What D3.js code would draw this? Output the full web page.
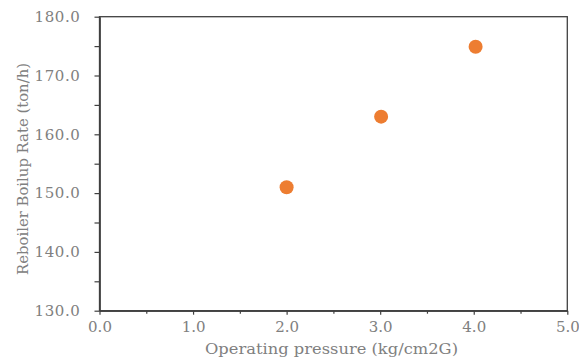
<!DOCTYPE html>
<html>
<head>
<meta charset="utf-8">
<script src="https://cdn.jsdelivr.net/npm/d3@7"></script>
<style>
  body { margin: 0; background: #fff; }
  text { font-family: "DejaVu Serif", "Liberation Serif", serif; fill: #808080; }
</style>
</head>
<body>
<div id="chart"></div>
<script>
// data
var pressure = [2.0, 3.01, 4.02];
var boilup = [151.0, 163.0, 174.9];
var xTicks = [0, 1, 2, 3, 4, 5];
var yTicks = [130, 140, 150, 160, 170, 180];
var xMinor = [0.5, 1.5, 2.5, 3.5, 4.5];
var yMinor = [135, 145, 155, 165, 175];

var W = 579, H = 363;
var m = { left: 99.5, right: 11.7, top: 16.7, bottom: 52.3 };
var iw = W - m.left - m.right, ih = H - m.top - m.bottom;

var svg = d3.select("#chart").append("svg").attr("width", W).attr("height", H);
var g = svg.append("g").attr("transform", "translate(" + m.left + "," + m.top + ")");

var x = d3.scaleLinear().domain([0, 5]).range([0, iw]);
var y = d3.scaleLinear().domain([130, 180]).range([ih, 0]);

// frame
g.append("rect").attr("width", iw).attr("height", ih)
  .attr("fill", "none").attr("stroke", "#404040").attr("stroke-width", 1.3);

var fmt = d3.format(".1f");

var xAxis = g.append("g").attr("transform", "translate(0," + ih + ")")
  .call(d3.axisBottom(x).tickValues(xTicks).tickFormat(fmt).tickSizeInner(4).tickSizeOuter(0).tickPadding(7));
var xAxisMinor = g.append("g").attr("transform", "translate(0," + ih + ")")
  .call(d3.axisBottom(x).tickValues(xMinor).tickFormat("").tickSizeInner(3).tickSizeOuter(0));
var yAxis = g.append("g")
  .call(d3.axisLeft(y).tickValues(yTicks).tickFormat(fmt).tickSizeInner(5).tickSizeOuter(0).tickPadding(14));
var yAxisMinor = g.append("g")
  .call(d3.axisLeft(y).tickValues(yMinor).tickFormat("").tickSizeInner(5).tickSizeOuter(0));

[xAxis, xAxisMinor, yAxis, yAxisMinor].forEach(function (a) {
  a.select(".domain").attr("stroke", "#404040").attr("stroke-width", 1.3);
  a.selectAll(".tick line").attr("stroke", "#404040").attr("stroke-width", 1.2);
  a.selectAll(".tick text").attr("font-family", null).style("fill", "#808080").attr("font-size", 15);
});
yAxis.selectAll(".tick text").attr("letter-spacing", "0.6px");

// points
g.selectAll("circle.pt").data(pressure).enter().append("circle")
  .attr("class", "pt")
  .attr("cx", function (d) { return x(d); })
  .attr("cy", function (d, i) { return y(boilup[i]); })
  .attr("r", 7)
  .attr("fill", "#ED7D31");

// axis titles
svg.append("text")
  .attr("x", 331.5).attr("y", 354)
  .attr("text-anchor", "middle").attr("font-size", 15)
  .attr("textLength", 253).attr("lengthAdjust", "spacingAndGlyphs")
  .text("Operating pressure (kg/cm2G)");

svg.append("text")
  .attr("transform", "translate(28,169) rotate(-90)")
  .attr("text-anchor", "middle").attr("font-size", 14)
  .attr("textLength", 212).attr("lengthAdjust", "spacingAndGlyphs")
  .text("Reboiler Boilup Rate (ton/h)");
</script>
</body>
</html>
